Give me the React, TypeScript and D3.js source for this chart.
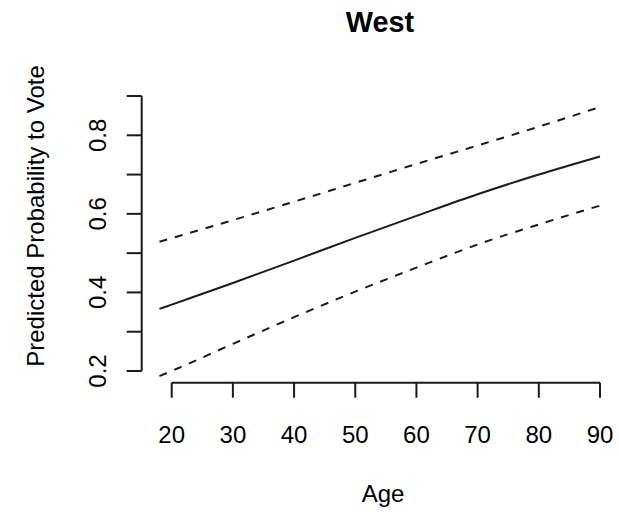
import React from "react";
import * as d3 from "d3";

const ages = [18, 20, 30, 40, 50, 60, 70, 80, 90];
const fitted = [0.358, 0.369, 0.424, 0.481, 0.539, 0.595, 0.65, 0.7, 0.746];
const upperCI = [0.529, 0.538, 0.584, 0.631, 0.679, 0.727, 0.774, 0.822, 0.872];
const lowerCI = [0.187, 0.2, 0.269, 0.337, 0.402, 0.463, 0.522, 0.573, 0.621];
const xTicks = [20, 30, 40, 50, 60, 70, 80, 90];
const yTicks = [0.2, 0.3, 0.4, 0.5, 0.6, 0.7, 0.8, 0.9];
const yLabels = [0.2, 0.4, 0.6, 0.8];
const title = "West";
const xTitle = "Age";
const yTitle = "Predicted Probability to Vote";

const W = 619;
const H = 512;
const FONT = "'Liberation Sans', Arial, Helvetica, sans-serif";

export default function App() {
  const x = d3.scaleLinear().domain([20, 90]).range([171.7, 600]);
  const y = d3.scaleLinear().domain([0.2, 0.9]).range([371, 96]);
  const axX = 141.7;
  const axY = 382.7;
  const tick = 15;
  const line = (vals: number[]) =>
    d3
      .line<number>()
      .x((_, i) => x(ages[i]))
      .y((d) => y(d))
      .curve(d3.curveMonotoneX)(vals) || "";
  const ink = "#1a1a1a";
  return (
    <svg
      width={W}
      height={H}
      style={{ position: "absolute", left: 0, top: 0, background: "#fff" }}
      fontFamily={FONT}
    >
      <rect x={0} y={0} width={W} height={H} fill="#fff" />
      <text x={380} y={32} textAnchor="middle" fontSize={28.8} fontWeight="bold" fill="#000">
        {title}
      </text>
      <path d={line(fitted)} fill="none" stroke={ink} strokeWidth={2} />
      <path d={line(upperCI)} fill="none" stroke={ink} strokeWidth={2} strokeDasharray="8,8" />
      <path d={line(lowerCI)} fill="none" stroke={ink} strokeWidth={2} strokeDasharray="8,8" />
      <line x1={x(20)} x2={x(90)} y1={axY} y2={axY} stroke={ink} strokeWidth={2} />
      {xTicks.map((t) => (
        <g key={"xt" + t}>
          <line x1={x(t)} x2={x(t)} y1={axY} y2={axY + tick} stroke={ink} strokeWidth={2} />
          <text x={x(t)} y={443} textAnchor="middle" fontSize={24} fill="#000">
            {t}
          </text>
        </g>
      ))}
      <text x={383} y={502} textAnchor="middle" fontSize={24} fill="#000">
        {xTitle}
      </text>
      <line x1={axX} x2={axX} y1={y(0.2)} y2={y(0.9)} stroke={ink} strokeWidth={2} />
      {yTicks.map((t) => (
        <line key={"yt" + t} x1={axX - tick} x2={axX} y1={y(t)} y2={y(t)} stroke={ink} strokeWidth={2} />
      ))}
      {yLabels.map((t) => (
        <text
          key={"yl" + t}
          transform={`translate(106,${y(t)}) rotate(-90)`}
          textAnchor="middle"
          fontSize={24}
          fill="#000"
        >
          {t.toFixed(1)}
        </text>
      ))}
      <text
        transform={`translate(44,${216}) rotate(-90)`}
        textAnchor="middle"
        fontSize={24}
        fill="#000"
      >
        {yTitle}
      </text>
    </svg>
  );
}
